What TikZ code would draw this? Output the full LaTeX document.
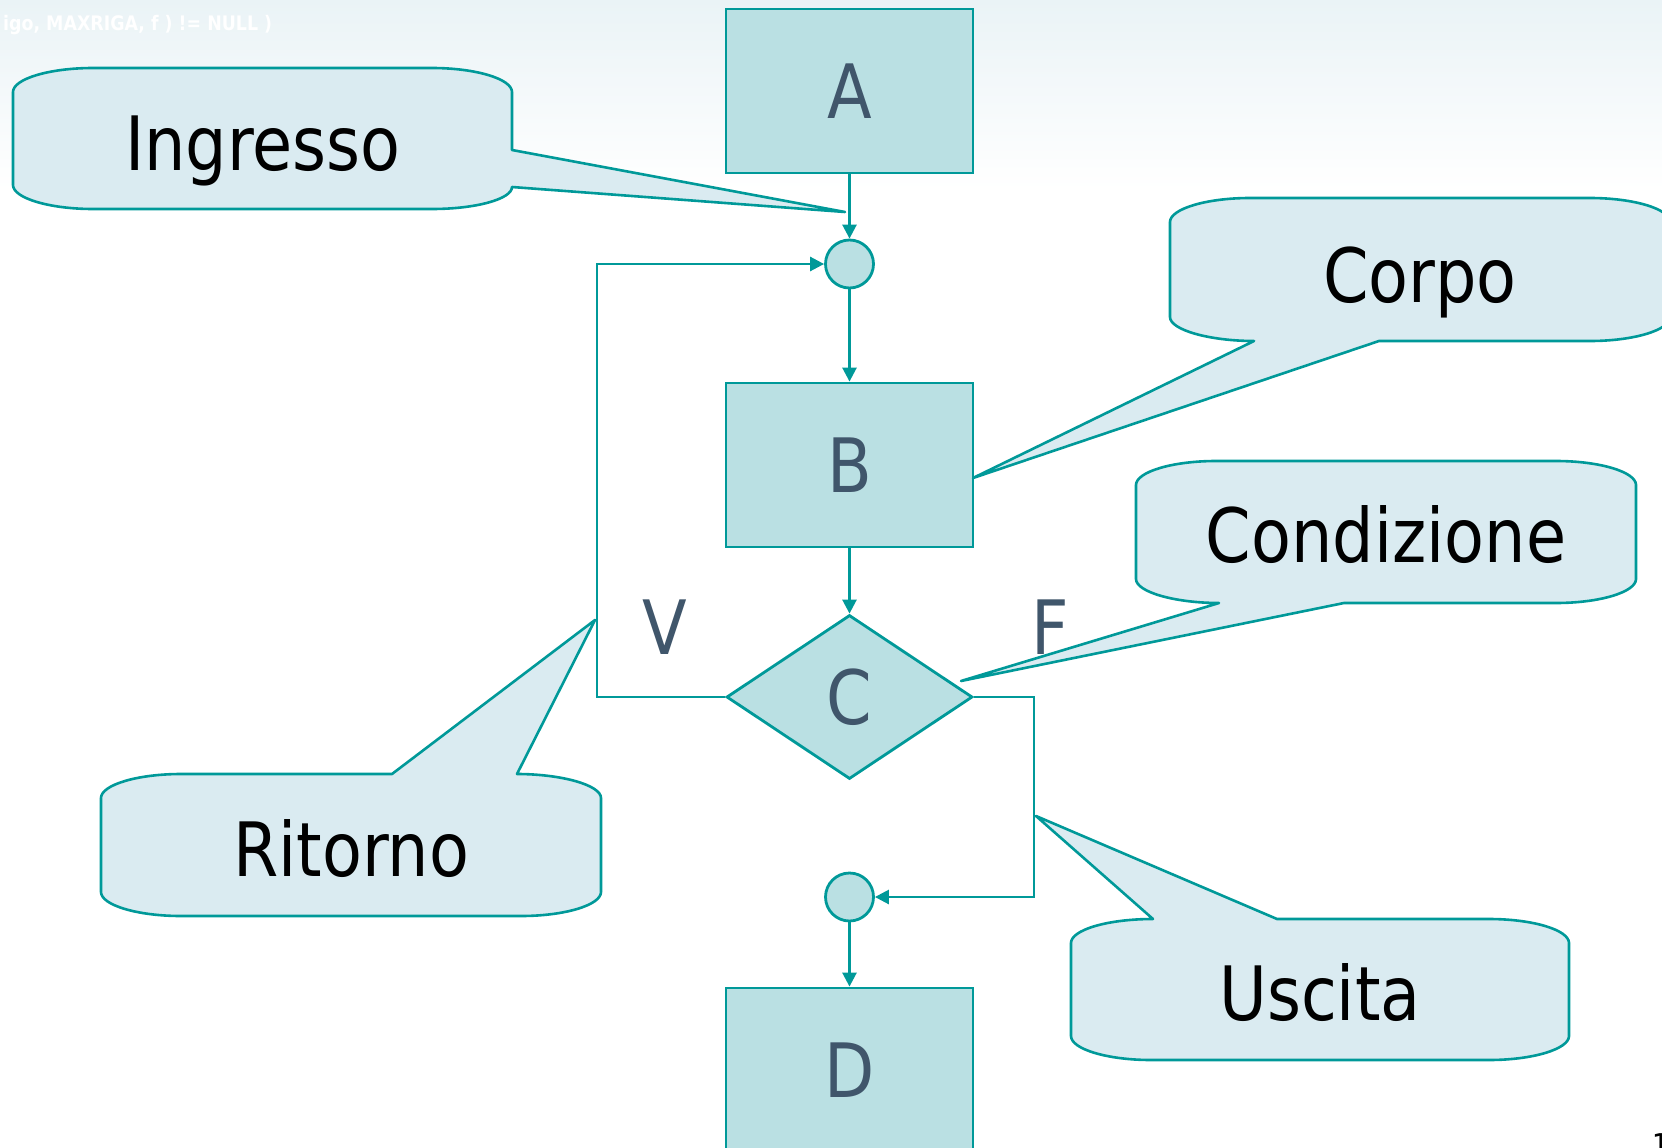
\documentclass[tikz,border=0pt]{standalone}
\usepackage{fontspec}
\setmainfont{DejaVu Sans}[FakeStretch=0.87]
\usetikzlibrary{shapes.geometric,arrows.meta,calc}

\definecolor{flowline}{RGB}{0,153,153}
\definecolor{boxfill}{RGB}{186,224,227}
\definecolor{bubblefill}{RGB}{218,235,241}
\definecolor{lettercol}{RGB}{64,86,107}
\definecolor{hazecol}{RGB}{234,243,246}

\newcommand\flowfont{\fontsize{75}{80}\selectfont}

\tikzset{
  flow/.style={draw=flowline, line width=2.8pt, fill=boxfill, inner sep=0pt},
  stepbox/.style={flow, rectangle, minimum width=247pt, minimum height=164pt,
    text=lettercol, font=\flowfont, text height=55pt, text depth=0pt},
  decision/.style={flow, diamond, minimum width=246pt, minimum height=164pt,
    text=lettercol, font=\flowfont, text height=55pt, text depth=0pt},
  joint/.style={flow, circle, minimum size=48pt},
  link/.style={draw=flowline, line width=2.6pt, -{Triangle[length=14pt,width=14pt]}},
  bubble/.style={draw=flowline, line width=2.6pt, fill=bubblefill, line join=round},
  bubbletext/.style={inner sep=0pt, font=\flowfont, text=black, anchor=base},
  branch/.style={inner sep=0pt, font=\flowfont, text=lettercol, text height=55pt, text depth=0pt}
}

\begin{document}
\begin{tikzpicture}[x=1pt, y=-1pt]
  \useasboundingbox (0,0) rectangle (1662,1148);
  \clip (0,0) rectangle (1662,1148);

  % page background with a light haze along the top
  \fill[white] (0,0) rectangle (1662,1148);
  \shade[top color=hazecol, bottom color=white] (0,0) rectangle (1662,190);
  \node[anchor=base west, inner sep=0pt, text=white,
        font=\bfseries\fontsize{20}{22}\selectfont] (codeline) at (3,31)
        {igo, MAXRIGA, f ) != NULL )};

  % flowchart of the loop
  \node[stepbox] (A) at (849.5,91) {A};
  \node[joint] (J1) at (849.5,264) {};
  \node[stepbox] (B) at (849.5,465) {B};
  \node[decision] (C) at (849.5,697) {C};
  \node[joint] (J2) at (849.5,897) {};
  \node[stepbox] (D) at (849.5,1070) {D};

  \coordinate (loopL) at (597,697);
  \coordinate (exitR) at (1034,697);

  \draw[link] (A) -- (J1);
  \draw[link] (J1) -- (B);
  \draw[link] (B) -- (C);
  \draw[link] (C.west) -- (loopL) |- (J1.west);
  \draw[link] (C.east) -- (exitR) |- (J2.east);
  \draw[link] (J2) -- (D);

  \node[branch] (vlabel) at (665,627) {V};
  \node[branch] (flabel) at (1050,627) {F};

  % callout pointer tips
  \coordinate (ingTip) at (845,212);
  \coordinate (corpoTip) at (973,478);
  \coordinate (condTip) at (961,681);
  \coordinate (ritTip) at (595,620);
  \coordinate (uscTip) at (1036,816);

  % Ingresso
  \coordinate (ingNW) at (13,68);
  \begin{scope}[shift={(ingNW)}]
    \draw[bubble] (0,24) .. controls (0,11) and (36,0) .. (80,0) -- (419,0)
      .. controls (463,0) and (499,11) .. (499,24) -- (499,82) -- (ingTip)
      -- (499,119) .. controls (499,131) and (463,141) .. (419,141) -- (80,141)
      .. controls (36,141) and (0,130) .. (0,117) -- cycle;
  \end{scope}
  \node[bubbletext] (ingresso) at (263,170) {Ingresso};

  % Corpo
  \coordinate (corpoNW) at (1170,198);
  \begin{scope}[shift={(corpoNW)}]
    \draw[bubble] (0,24) .. controls (0,11) and (36,0) .. (80,0) -- (420,0)
      .. controls (464,0) and (500,11) .. (500,24) -- (500,119)
      .. controls (500,132) and (464,143) .. (420,143) -- (209,143) -- (corpoTip)
      -- (84,143) .. controls (40,143) and (0,132) .. (0,119) -- cycle;
  \end{scope}
  \node[bubbletext] (corpo) at (1420,302) {Corpo};

  % Condizione
  \coordinate (condNW) at (1136,461);
  \begin{scope}[shift={(condNW)}]
    \draw[bubble] (0,24) .. controls (0,11) and (36,0) .. (80,0) -- (420,0)
      .. controls (464,0) and (500,11) .. (500,24) -- (500,118)
      .. controls (500,131) and (464,142) .. (420,142) -- (208,142) -- (condTip)
      -- (83,142) .. controls (39,142) and (0,131) .. (0,118) -- cycle;
  \end{scope}
  \node[bubbletext] (condizione) at (1386,562) {Condizione};

  % Ritorno
  \coordinate (ritNW) at (101,774);
  \begin{scope}[shift={(ritNW)}]
    \draw[bubble] (0,24) .. controls (0,11) and (36,0) .. (80,0) -- (291,0)
      -- (ritTip) -- (416,0) .. controls (460,0) and (500,11) .. (500,24)
      -- (500,118) .. controls (500,131) and (464,142) .. (420,142) -- (80,142)
      .. controls (36,142) and (0,131) .. (0,118) -- cycle;
  \end{scope}
  \node[bubbletext] (ritorno) at (351,876) {Ritorno};

  % Uscita
  \coordinate (uscNW) at (1071,919);
  \begin{scope}[shift={(uscNW)}]
    \draw[bubble] (0,24) .. controls (0,11) and (36,0) .. (82,0) -- (uscTip)
      -- (206,0) -- (418,0) .. controls (462,0) and (498,11) .. (498,24)
      -- (498,117) .. controls (498,130) and (462,141) .. (418,141) -- (80,141)
      .. controls (36,141) and (0,130) .. (0,117) -- cycle;
  \end{scope}
  \node[bubbletext] (uscita) at (1320,1020) {Uscita};

  % slide number, cut by the page edge
  \node[anchor=north west, inner sep=0pt, text=black,
        font=\fontsize{30}{32}\selectfont] (pagenum) at (1652,1133) {1};
\end{tikzpicture}
\end{document}
